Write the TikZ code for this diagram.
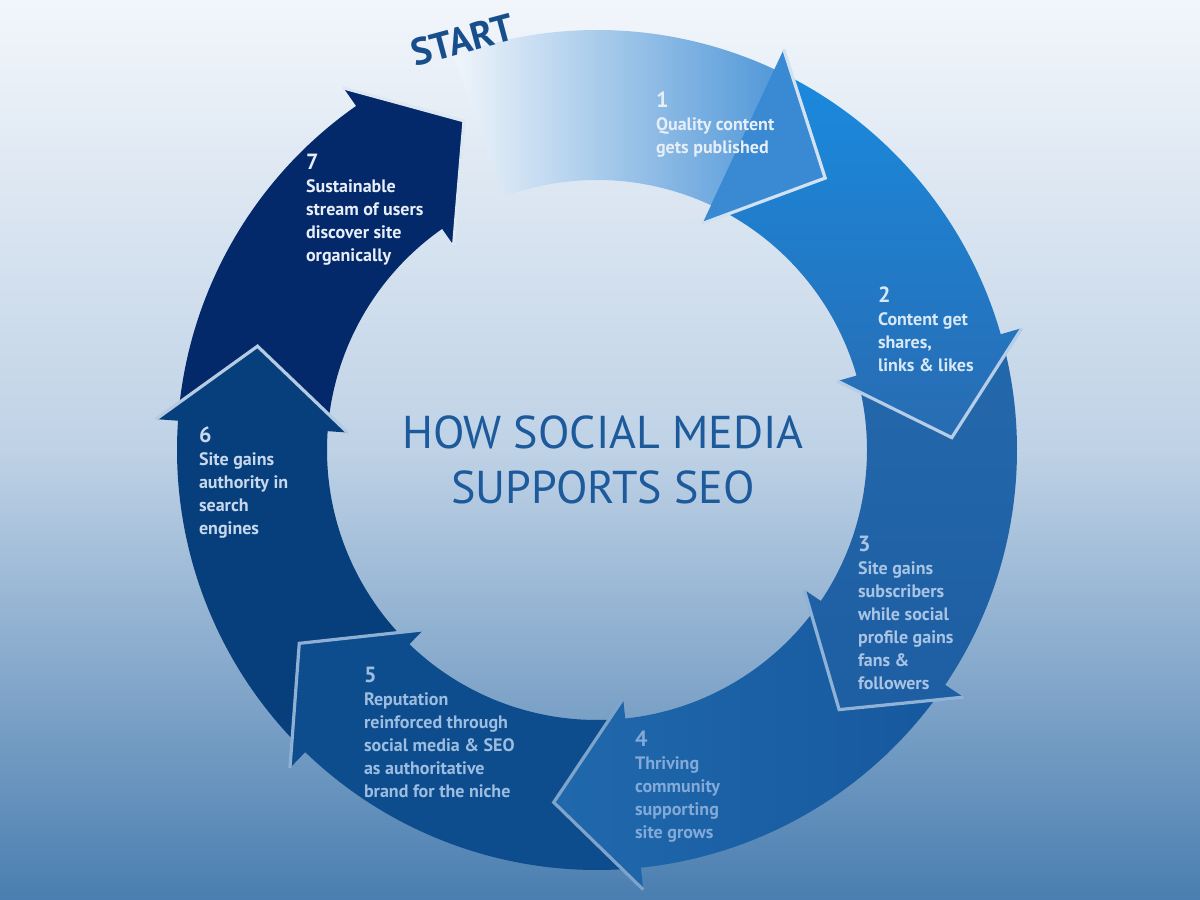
\documentclass[tikz,border=0pt]{standalone}
\usepackage{fontspec}
\setmainfont{PT Sans}
\begin{document}
\begin{tikzpicture}[x=0.5pt,y=0.5pt,
  lbl/.style={anchor=north west,align=left,font=\bfseries\fontsize{9}{11.5}\selectfont},
  gap/.style={line width=1.6pt,line join=miter}]
\definecolor{bgtop}{HTML}{F2F6FB}\definecolor{bgmid}{HTML}{BFD2E6}\definecolor{bgbot}{HTML}{4A7EB0}
\definecolor{title}{HTML}{1D5A9C}\definecolor{startc}{HTML}{174F8C}
\definecolor{s1a}{HTML}{F0F5FB}\definecolor{s1b}{HTML}{3A8AD3}
\definecolor{s2a}{HTML}{1A8ADE}\definecolor{s2b}{HTML}{286CB2}
\definecolor{s3a}{HTML}{2468AC}\definecolor{s3b}{HTML}{1E5EA2}
\definecolor{s4a}{HTML}{2068AC}\definecolor{s4b}{HTML}{16589E}
\definecolor{s5}{HTML}{0D4C8D}\definecolor{s6}{HTML}{073F7D}\definecolor{s7}{HTML}{03296A}
\definecolor{g1}{HTML}{D2E2F2}\definecolor{g2}{HTML}{B5CDE6}\definecolor{g3}{HTML}{8FB2D6}
\definecolor{g4}{HTML}{7FA4CB}\definecolor{g5}{HTML}{8EB0D4}\definecolor{g6}{HTML}{B5CBE2}\definecolor{g7}{HTML}{DDE8F3}
\definecolor{c1}{HTML}{E6EEF8}\definecolor{c2}{HTML}{D8E8F8}\definecolor{c3}{HTML}{A8C4E4}
\definecolor{c4}{HTML}{82AAD8}\definecolor{c5}{HTML}{9DBDE0}\definecolor{c6}{HTML}{C8D8EC}\definecolor{c7}{HTML}{E8EEF8}
\useasboundingbox (0,0) rectangle (1200,900);
\shade[top color=bgtop,bottom color=bgbot,middle color=bgmid] (0,0) rectangle (1200,900);
\newcommand{\segpath}[3]{(#1:420) arc[start angle=#1,end angle=#2,radius=420] -- (#2:442) -- (#3:355) -- (#2:250) -- (#2:270) arc[start angle=#2,end angle=#1,radius=270] -- cycle}
\begin{scope}[shift={(597,450)}]
 \shade[left color=s1a,right color=s1b] \segpath{110}{65}{50};
 \fill[s7] \segpath{176}{125}{112};
 \fill[s6] \segpath{226}{176}{163};
 \fill[s5] \segpath{276}{226}{213};
 \shade[left color=s4a,right color=s4b] \segpath{326}{276}{263};
 \shade[top color=s3a,bottom color=s3b] \segpath{376}{326}{313};
 \shade[top color=s2a,bottom color=s2b] \segpath{65}{16}{2};
 \fill[s1b] (65:442) -- (50:355) -- (65:250) -- cycle;
 \draw[gap,g1] (65:442) -- (50:355) -- (65:250);
 \draw[gap,g2] (16:442) -- (2:355) -- (16:250);
 \draw[gap,g3] (-34:442) -- (-47:355) -- (-34:250);
 \draw[gap,g4] (-84:442) -- (-97:355) -- (-84:250);
 \draw[gap,g5] (-134:442) -- (-147:355) -- (-134:250);
 \draw[gap,g6] (176:442) -- (163:355) -- (176:250);
 \draw[gap,g7] (125:442) -- (112:355) -- (125:250);
\end{scope}
\node[rotate=15,text=startc,font=\bfseries\fontsize{19}{19}\selectfont] (start) at (462,860) {START};
\node[text=title,align=center,font=\fontsize{23}{27.5}\selectfont] (title) at (603,440) {HOW SOCIAL MEDIA\\SUPPORTS SEO};
\node[lbl,text=c1] (t1) at (649,815) {{\fontsize{11}{11}\selectfont 1}\\Quality content\\gets published};
\node[lbl,text=c2] (t2) at (871,620) {{\fontsize{11}{11}\selectfont 2}\\Content get\\shares,\\links \& likes};
\node[lbl,text=c3] (t3) at (851,371) {{\fontsize{11}{11}\selectfont 3}\\Site gains\\subscribers\\while social\\profile gains\\fans \&\\followers};
\node[lbl,text=c4] (t4) at (628,176) {{\fontsize{11}{11}\selectfont 4}\\Thriving\\community\\supporting\\site grows};
\node[lbl,text=c5] (t5) at (357,240) {{\fontsize{11}{11}\selectfont 5}\\Reputation\\reinforced through\\social media \& SEO\\as authoritative\\brand for the niche};
\node[lbl,text=c6] (t6) at (192,480) {{\fontsize{11}{11}\selectfont 6}\\Site gains\\authority in\\search\\engines};
\node[lbl,text=c7] (t7) at (299,753) {{\fontsize{11}{11}\selectfont 7}\\Sustainable\\stream of users\\discover site\\organically};
\end{tikzpicture}
\end{document}
